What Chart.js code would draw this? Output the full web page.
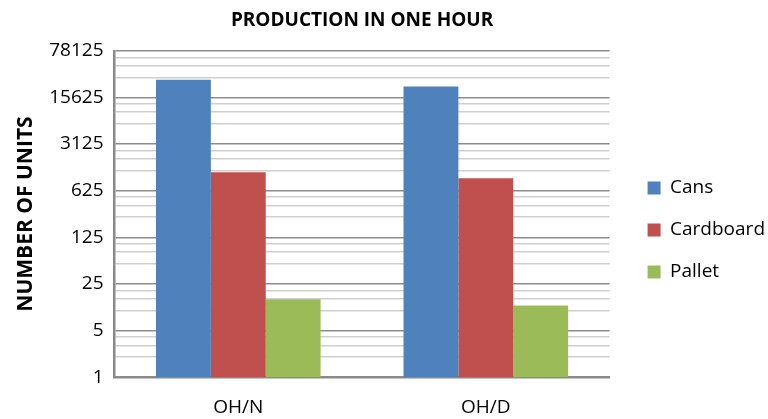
<!DOCTYPE html>
<html>
<head>
<meta charset="utf-8">
<script src="https://cdn.jsdelivr.net/npm/chart.js@4"></script>
<style>
  html, body { margin: 0; padding: 0; background: #fff; }
  #wrap { width: 768px; height: 419px; }
</style>
</head>
<body>
<div id="wrap"><canvas id="chart" width="768" height="419"></canvas></div>
<script>
// данные графика
const categories = ["OH/N", "OH/D"];
const seriesNames = ["Cans", "Cardboard", "Pallet"];
const cansValues = [28800, 22700];
const cardboardValues = [1180, 960];
const palletValues = [14.7, 11.9];
const majorTicks = [1, 5, 25, 125, 625, 3125, 15625, 78125];
const colors = ["#4F81BD", "#C0504D", "#9BBB59"];

// все линии сетки: основные 5^k и промежуточные 2,3,4 * 5^k
const gridValues = [];
majorTicks.forEach(function (v, i) {
  gridValues.push(v);
  if (i < majorTicks.length - 1) {
    gridValues.push(v * 2, v * 3, v * 4);
  }
});

const font = "'Open Sans', 'DejaVu Sans', sans-serif";

// расширяем легенду и сдвигаем её, как в оригинале
const legendGap = {
  id: "legendGap",
  beforeLayout: function (chart) {
    const lg = chart.legend;
    if (lg && !lg._wrapped) {
      const fit = lg.fit;
      lg.fit = function () {
        fit.call(this);
        this.width += 8;
      };
      lg._wrapped = true;
    }
  },
  afterLayout: function (chart) {
    const lg = chart.legend;
    if (lg) {
      lg.left += 15;
      lg.right += 15;
      lg.top += 11;
      lg.bottom += 11;
    }
  },
};

const ctx = document.getElementById("chart").getContext("2d");
new Chart(ctx, {
  type: "bar",
  data: {
    labels: categories,
    datasets: [cansValues, cardboardValues, palletValues].map(function (vals, i) {
      return {
        label: seriesNames[i],
        data: vals,
        backgroundColor: colors[i],
        borderWidth: 0,
        categoryPercentage: 0.665,
        barPercentage: 1.0,
      };
    }),
  },
  options: {
    responsive: false,
    animation: false,
    layout: { padding: { left: 7, right: 0, top: 0, bottom: -19 } },
    plugins: {
      title: {
        display: true,
        fullSize: false,
        text: "PRODUCTION IN ONE HOUR",
        color: "#000",
        font: { family: font, size: 19, weight: "bold" },
        padding: { top: 9, bottom: 19 },
      },
      legend: {
        position: "right",
        labels: {
          color: "#000",
          font: { family: font, size: 19 },
          boxWidth: 13,
          boxHeight: 13,
          padding: 23,
        },
      },
      tooltip: { enabled: false },
    },
    scales: {
      x: {
        grid: { display: false, drawTicks: false },
        border: { display: true, color: "#8a8a8a", width: 2.5 },
        ticks: { color: "#000", font: { family: font, size: 19 }, padding: 19 },
      },
      y: {
        type: "logarithmic",
        min: 1,
        max: 78125,
        afterBuildTicks: function (scale) {
          scale.ticks = gridValues.map(function (v) { return { value: v }; });
        },
        ticks: {
          color: "#000",
          font: { family: font, size: 19 },
          padding: 11,
          autoSkip: false,
          callback: function (value) {
            return majorTicks.indexOf(value) >= 0 ? String(value) : "";
          },
        },
        grid: {
          drawTicks: false,
          color: function (c) {
            return majorTicks.indexOf(c.tick.value) >= 0 ? "#8c8c8c" : "#cfcfcf";
          },
          lineWidth: 1.5,
        },
        border: { display: true, color: "#8a8a8a", width: 2.5 },
        title: {
          display: true,
          text: "NUMBER OF UNITS",
          color: "#000",
          font: { family: font, size: 21, weight: "bold" },
          padding: { top: 6, bottom: 0 },
        },
      },
    },
  },
  plugins: [legendGap],
});
</script>
</body>
</html>
